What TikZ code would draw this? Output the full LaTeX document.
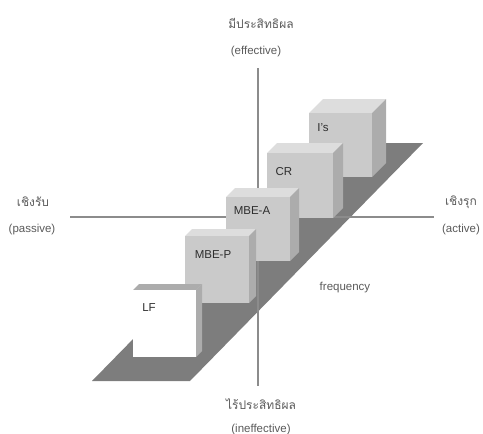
\documentclass[tikz,border=0pt]{standalone}
\usepackage{fontspec}
\setmainfont{Liberation Sans}
\newfontfamily\thaifont[Script=Thai]{Loma}
\usepackage{tikz}
\definecolor{shade}{RGB}{125, 125, 125}
\definecolor{axisgray}{RGB}{140, 140, 140}
\definecolor{front}{RGB}{202, 202, 202}
\definecolor{lid}{RGB}{221, 221, 221}
\definecolor{flank}{RGB}{172, 172, 172}
\definecolor{ink}{RGB}{45, 45, 45}
\definecolor{soft}{RGB}{90, 90, 90}

% front box from (#1,#2) to (#3,#4), depth #5, front colour #6, top colour #7
\newcommand{\block}[7]{
  \fill[color=#7] (#1, #2) to (#1+#5, #2-#5) to (#3+#5, #2-#5) to (#3, #2) -- cycle;
  \fill[color=flank] (#3, #2) to (#3+#5, #2-#5) to (#3+#5, #4-#5) to (#3, #4) -- cycle;
  \fill[color=#6] (#1, #2) rectangle (#3, #4);
}

\begin{document}
\begin{tikzpicture}[x=1pt, y=-1pt, thick]
  \useasboundingbox (0, 0) rectangle (483, 434);
  \tikzset{axislabel/.style={color=soft, font=\fontsize{11.5}{13}\selectfont},
           thailabel/.style={color=soft, font=\thaifont\fontsize{12}{14}\selectfont},
           cubelabel/.style={color=ink, font=\fontsize{11.5}{13}\selectfont}}
  \coordinate (north) at (258, 68);
  \coordinate (south) at (258, 386);
  \coordinate (west) at (70, 217);
  \coordinate (east) at (434, 217);
  \fill[color=shade] (92, 381) to (190, 381) to (423, 143) to (325, 143) -- cycle;
  \draw[color=axisgray, line width=1.2pt] (west) -- (east);
  \draw[color=axisgray, line width=1.2pt] (north) -- (south);
  \block{309}{113}{372}{177}{14}{front}{lid}
  \block{267}{153}{333}{218}{10}{front}{lid}
  \block{226}{197}{290}{261}{9}{front}{lid}
  \block{185}{236}{249}{303}{7}{front}{lid}
  \block{133}{290}{196}{357}{6}{white}{flank}
  \node[cubelabel] (is) at (323, 128) {I's};
  \node[cubelabel] (cr) at (284, 172) {CR};
  \node[cubelabel] (mbea) at (252, 211) {MBE-A};
  \node[cubelabel] (mbep) at (213, 255) {MBE-P};
  \node[cubelabel] (lf) at (149, 308) {LF};
  \node[axislabel] (freq) at (345, 288) {frequency};
  \node[thailabel] (eff) at (261, 23) {มีประสิทธิผล};
  \node[axislabel] (effen) at (256, 52) {(effective)};
  \node[thailabel] (ineff) at (261, 404) {ไร้ประสิทธิผล};
  \node[axislabel] (ineffen) at (261, 430) {(ineffective)};
  \node[thailabel] (pass) at (33, 202) {เชิงรับ};
  \node[axislabel] (passen) at (32, 230) {(passive)};
  \node[thailabel] (act) at (461, 202) {เชิงรุก};
  \node[axislabel] (acten) at (461, 230) {(active)};
\end{tikzpicture}
\end{document}
